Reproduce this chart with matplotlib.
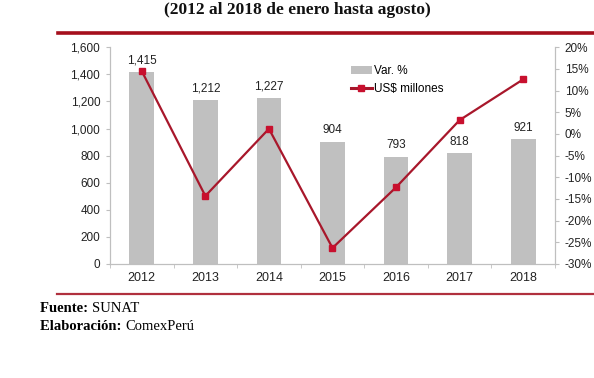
import numpy as np
import matplotlib.pyplot as plt
from matplotlib.lines import Line2D
from matplotlib.patches import Patch

# Data
years = ['2012', '2013', '2014', '2015', '2016', '2017', '2018']
usd_millions = [1415, 1212, 1227, 904, 793, 818, 921]
var_pct = [14.5, -14.3, 1.2, -26.3, -12.3, 3.2, 12.6]

left_ticks = [0, 200, 400, 600, 800, 1000, 1200, 1400, 1600]
right_ticks = [-30, -25, -20, -15, -10, -5, 0, 5, 10, 15, 20]

bar_color = '#C0C0C0'
line_color = '#A8172B'
marker_color = '#C8102E'
axis_color = '#BFBFBF'
dark_red = '#A50F1C'
fs = 8.5

plt.rcParams['font.family'] = ['Liberation Sans', 'DejaVu Sans']

fig = plt.figure(figsize=(5.94, 3.78), dpi=100)
ax = fig.add_axes([0.1852, 0.3016, 0.7491, 0.5733])
ax2 = ax.twinx()

x = np.arange(len(years))

# Bars (left axis)
ax.bar(x, usd_millions, width=0.39, color=bar_color, zorder=2)
for xi, v in zip(x, usd_millions):
    ax.text(xi, v + 40, f'{v:,}', ha='center', va='bottom', fontsize=fs, color='#222222')

ax.set_xlim(-0.5, len(years) - 0.5)
ax.set_ylim(0, 1600)
ax.set_yticks(left_ticks)
ax.set_yticklabels([f'{t:,}' for t in left_ticks])
ax.set_xticks(x)
ax.set_xticklabels(years)
ax.set_xticks(np.arange(-0.5, len(years), 1), minor=True)
ax.tick_params(axis='x', which='major', length=0, pad=6, labelsize=9, colors='#222222')
ax.tick_params(axis='x', which='minor', length=3, color=axis_color, direction='out')
ax.tick_params(axis='y', length=3, color=axis_color, labelsize=fs, labelcolor='#222222', pad=4)

# Line (right axis)
ax2.plot(x, var_pct, color=line_color, linewidth=1.6, marker='s', markersize=5,
         markerfacecolor=marker_color, markeredgecolor=marker_color, zorder=3)
ax2.set_ylim(-30, 20)
ax2.set_yticks(right_ticks)
ax2.set_yticklabels([f'{t}%' for t in right_ticks])
ax2.tick_params(axis='y', length=3, color=axis_color, labelsize=fs, labelcolor='#222222', pad=4)

for a in (ax, ax2):
    a.spines['top'].set_visible(False)
    for s in ('left', 'right', 'bottom'):
        a.spines[s].set_color(axis_color)
        a.spines[s].set_linewidth(0.8)

# Legend (labels kept as in the original)
handles = [Patch(facecolor=bar_color, edgecolor='none'),
           Line2D([0], [0], color=line_color, linewidth=2.2, marker='s', markersize=4,
                  markerfacecolor=marker_color, markeredgecolor=marker_color)]
ax2.legend(handles, ['Var. %', 'US$ millones'], loc='upper left',
           bbox_to_anchor=(0.53, 0.94), frameon=False, fontsize=fs,
           handlelength=1.8, handletextpad=0.2, labelspacing=0.5, borderaxespad=0)

# Title
fig.text(0.5, 1 - 10 / 378, '(2012 al 2018 de enero hasta agosto)', ha='center', va='center',
         fontsize=12.5, fontweight='bold', family='Liberation Serif', color='#111111')

# Red rules framing the chart
fig.add_artist(Line2D([58 / 594, 1.0], [1 - 32.5 / 378] * 2, color=dark_red, linewidth=2.6))
fig.add_artist(Line2D([57 / 594, 1.0], [1 - 294 / 378] * 2, color='#B0303E', linewidth=1.6))

# Source notes: bold label followed by normal text
notes = [('Fuente: ', 'SUNAT', 308), ('Elaboración: ', 'ComexPerú', 327)]
fig.canvas.draw()
r = fig.canvas.get_renderer()
for label, value, ypx in notes:
    t = fig.text(40 / 594, 1 - ypx / 378, label, fontsize=10.5, va='center',
                 family='Liberation Serif', fontweight='bold')
    bb = t.get_window_extent(r)
    fig.text(bb.x1 / fig.bbox.width, 1 - ypx / 378, value, fontsize=10.5, va='center',
             family='Liberation Serif')

fig.savefig('out.png', dpi=100)
